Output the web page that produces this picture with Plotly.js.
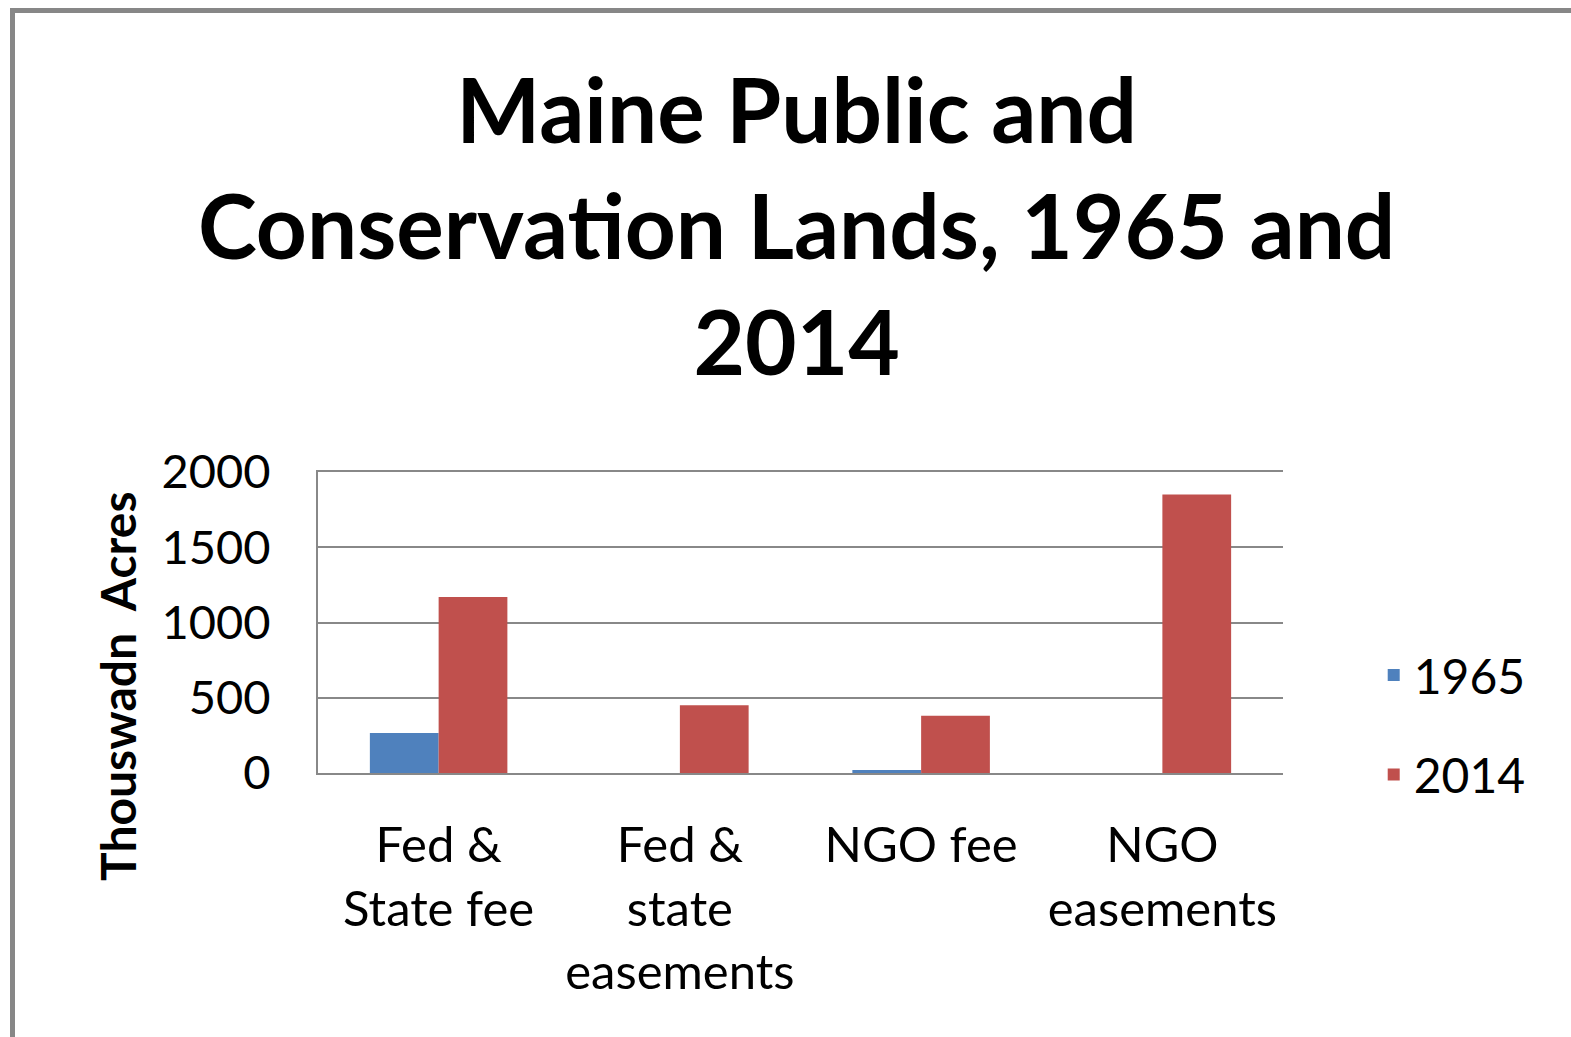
<!DOCTYPE html>
<html>
<head>
<meta charset="utf-8">
<script src="https://cdn.plot.ly/plotly-3.0.1.min.js"></script>
<style>
  html, body { margin: 0; padding: 0; background: #ffffff; }
  #frame { position: absolute; left: 10px; top: 8px; width: 1600px; height: 1100px;
           border-left: 5px solid #878787; border-top: 5px solid #878787; box-sizing: border-box; }
  #chart { position: absolute; left: 0; top: 0; width: 1571px; height: 1037px; }
</style>
</head>
<body>
<div id="frame"></div>
<div id="chart"></div>
<script>
const categories = ["Fed &<br>State fee", "Fed &<br>state<br>easements", "NGO fee", "NGO<br>easements"];
const values1965 = [265, 0, 20, 0];
const values2014 = [1170, 450, 380, 1850];
const seriesNames = ["1965", "2014"];
const yTicks = [0, 500, 1000, 1500, 2000];

const FONT = "Lato, 'Liberation Sans', Arial, sans-serif";

const traces = [
  { type: "bar", name: seriesNames[0], x: categories, y: values1965,
    marker: { color: "#4F81BD" }, legendgroup: "a" },
  { type: "bar", name: seriesNames[1], x: categories, y: values2014,
    marker: { color: "#C0504D" }, legendgroup: "b" }
];

const layout = {
  width: 1571, height: 1037,
  paper_bgcolor: "rgba(0,0,0,0)",
  plot_bgcolor: "#ffffff",
  margin: { l: 318, r: 288, t: 472, b: 264, pad: 0 },
  font: { family: FONT, color: "#000000", size: 48 },
  title: {
    text: "<b>Maine Public and<br>Conservation Lands, 1965 and<br>2014</b>",
    font: { family: FONT, size: 89, color: "#000000" },
    x: 0.496, xanchor: "center", xref: "paper",
    y: 0.862, yanchor: "top", yref: "container"
  },
  barmode: "group",
  bargap: 0.43,
  bargroupgap: 0,
  xaxis: {
    type: "category",
    showline: true, mirror: true, linecolor: "#888888", linewidth: 2,
    ticks: "", showgrid: false,
    tickfont: { family: FONT, size: 49, color: "#000000" },
    ticklabelstandoff: 28
  },
  yaxis: {
    range: [0, 2000],
    tickvals: yTicks,
    showline: true, linecolor: "#888888", linewidth: 2,
    showgrid: true, gridcolor: "#888888", gridwidth: 2,
    zeroline: false,
    ticks: "",
    tickfont: { family: FONT, size: 47, color: "#000000" },
    ticklabelstandoff: 36
  },
  annotations: [{
    text: "<b>Thouswadn  Acres</b>", textangle: -90, showarrow: false,
    xref: "paper", yref: "paper", x: -0.208, y: 0.29,
    xanchor: "center", yanchor: "middle",
    font: { family: FONT, size: 48, color: "#000000" }
  }],
  legend: {
    x: 1.094, xanchor: "left", y: 0.16, yanchor: "middle",
    font: { family: FONT, size: 48, color: "#000000" },
    traceorder: "grouped", tracegroupgap: 34,
    bgcolor: "rgba(0,0,0,0)"
  },
  showlegend: true
};

Plotly.newPlot("chart", traces, layout, { displayModeBar: false, staticPlot: true });
</script>
</body>
</html>
